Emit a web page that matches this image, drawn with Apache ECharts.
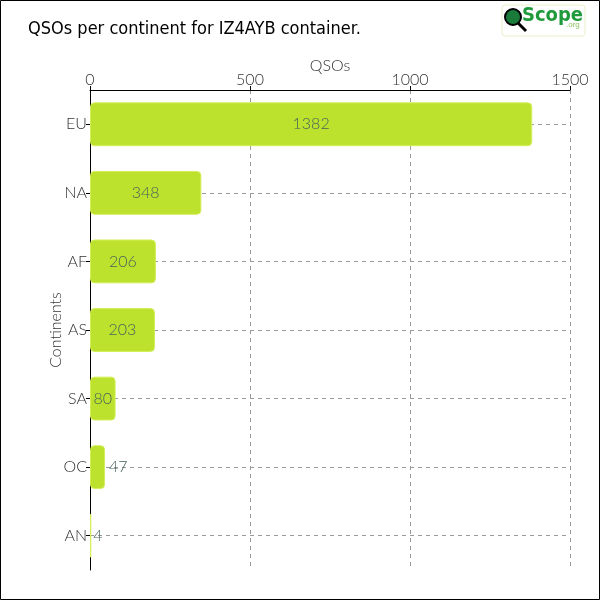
<!DOCTYPE html>
<html><head><meta charset="utf-8">
<script src="https://cdn.jsdelivr.net/npm/echarts@6/dist/echarts.min.js"></script>
<style>html,body{margin:0;padding:0;background:#fff}#c{width:600px;height:600px}</style>
</head><body><div id="c"></div>
<script>
const categories = ['EU','NA','AF','AS','SA','OC','AN'];
const qsos = [1382, 348, 206, 203, 80, 47, 4];
const xTicks = [0, 500, 1000, 1500];

const chart = echarts.init(document.getElementById('c'));
const fontLight = 'Lato, "Open Sans", sans-serif';
chart.setOption({
  animation: false,
  title: {
    text: 'QSOs per continent for IZ4AYB container.',
    left: 23, top: 15,
    textStyle: {fontFamily: '"DejaVu Sans Condensed", "DejaVu Sans", sans-serif', fontSize: 18, fontWeight: 'normal', color: '#000'}
  },
  grid: {left: 90, right: 30, top: 90, bottom: 30, containLabel: false},
  xAxis: {
    type: 'value', position: 'top', min: xTicks[0], max: xTicks[xTicks.length-1], interval: 500,
    name: 'QSOs', nameLocation: 'middle', nameGap: 16, nameMoveOverlap: false,
    nameTextStyle: {fontFamily: fontLight, fontWeight: 300, fontSize: 16, color: '#333'},
    axisLine: {show: true, lineStyle: {color: '#000', width: 1}},
    axisTick: {show: true, length: 4, lineStyle: {color: '#000'}},
    axisLabel: {fontFamily: fontLight, fontWeight: 300, fontSize: 16, color: '#333', margin: 2, formatter: v => String(v)},
    splitLine: {show: true, lineStyle: {type: [4, 4], color: '#999'}}
  },
  yAxis: {
    type: 'category', data: categories, inverse: true,
    name: 'Continents', nameLocation: 'middle', nameGap: 26, nameMoveOverlap: false,
    nameTextStyle: {fontFamily: fontLight, fontWeight: 300, fontSize: 16, color: '#333'},
    axisLine: {show: true, lineStyle: {color: '#000', width: 1}},
    axisTick: {show: true, alignWithLabel: true, length: 4, lineStyle: {color: '#000'}},
    axisLabel: {fontFamily: fontLight, fontWeight: 300, fontSize: 16, color: '#333', margin: 3},
    splitLine: {show: true, alignWithLabel: true, lineStyle: {type: [4, 4], color: '#999'}}
  },
  series: [{
    type: 'bar', barWidth: '64%',
    data: qsos.map(v => ({
      value: v,
      label: {position: v < 60 ? 'right' : 'inside', distance: v < 10 ? 2 : 4}
    })),
    itemStyle: {color: '#bde22e', borderColor: '#d4ee5a', borderWidth: 1, borderRadius: 4},
    label: {show: true, fontFamily: fontLight, fontWeight: 300, fontSize: 16, color: '#46625a'},
    z: 3
  }],
  graphic: [
    {type: 'rect', shape: {x: 0.5, y: 0.5, width: 599, height: 599}, style: {fill: 'none', stroke: '#000', lineWidth: 1}, z: 100},
    {type: 'rect', shape: {x: 502, y: 5, width: 83, height: 31, r: 3}, style: {fill: '#fff', stroke: '#e8f0c8', lineWidth: 1}, z: 50},
    {type: 'circle', shape: {cx: 513, cy: 17, r: 8}, style: {fill: '#1a7a3a', stroke: '#000', lineWidth: 2}, z: 51},
    {type: 'line', shape: {x1: 518, y1: 23, x2: 526, y2: 31}, style: {stroke: '#000', lineWidth: 3}, z: 51},
    {type: 'text', x: 522, y: 6, style: {text: 'Scope', fontFamily: '"DejaVu Sans Condensed", sans-serif', fontSize: 20, fontWeight: 'bold', fill: '#1f9a3a'}, z: 51},
    {type: 'text', x: 566, y: 21, style: {text: '.org', fontFamily: 'sans-serif', fontSize: 8, fill: '#8cc060'}, z: 51}
  ]
});
</script></body></html>
